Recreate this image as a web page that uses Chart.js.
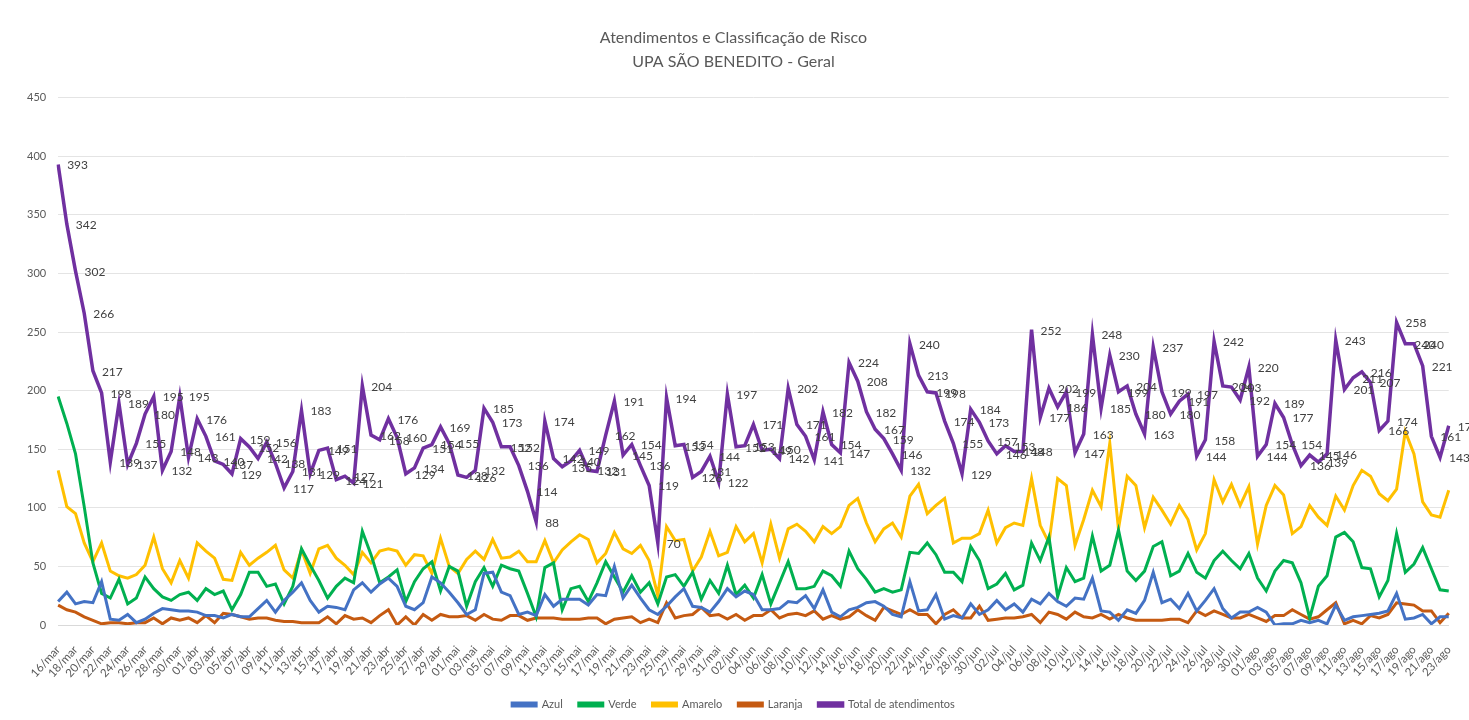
<!DOCTYPE html>
<html lang="pt-BR">
<head>
<meta charset="utf-8">
<title>Atendimentos e Classificação de Risco</title>
<script src="https://cdn.jsdelivr.net/npm/chart.js@4.4.1/dist/chart.umd.min.js"></script>
<style>
  html, body { margin: 0; padding: 0; background: #fff; }
  .chart-box { position: relative; width: 1469px; height: 720px; }
</style>
</head>
<body>
<div class="chart-box"><canvas id="chart"></canvas></div>
<script>
// Daily categories, 16/mar to 23/ago.
const days = [
  "16/mar","17/mar","18/mar","19/mar","20/mar","21/mar","22/mar","23/mar","24/mar","25/mar","26/mar","27/mar","28/mar","29/mar","30/mar","31/mar",
  "01/abr","02/abr","03/abr","04/abr","05/abr","06/abr","07/abr","08/abr","09/abr","10/abr","11/abr","12/abr","13/abr","14/abr","15/abr",
  "16/abr","17/abr","18/abr","19/abr","20/abr","21/abr","22/abr","23/abr","24/abr","25/abr","26/abr","27/abr","28/abr","29/abr","30/abr",
  "01/mai","02/mai","03/mai","04/mai","05/mai","06/mai","07/mai","08/mai","09/mai","10/mai","11/mai","12/mai","13/mai","14/mai","15/mai","16/mai",
  "17/mai","18/mai","19/mai","20/mai","21/mai","22/mai","23/mai","24/mai","25/mai","26/mai","27/mai","28/mai","29/mai","30/mai","31/mai",
  "01/jun","02/jun","03/jun","04/jun","05/jun","06/jun","07/jun","08/jun","09/jun","10/jun","11/jun","12/jun","13/jun","14/jun","15/jun",
  "16/jun","17/jun","18/jun","19/jun","20/jun","21/jun","22/jun","23/jun","24/jun","25/jun","26/jun","27/jun","28/jun","29/jun","30/jun",
  "01/jul","02/jul","03/jul","04/jul","05/jul","06/jul","07/jul","08/jul","09/jul","10/jul","11/jul","12/jul","13/jul","14/jul","15/jul","16/jul",
  "17/jul","18/jul","19/jul","20/jul","21/jul","22/jul","23/jul","24/jul","25/jul","26/jul","27/jul","28/jul","29/jul","30/jul","31/jul",
  "01/ago","02/ago","03/ago","04/ago","05/ago","06/ago","07/ago","08/ago","09/ago","10/ago","11/ago","12/ago","13/ago","14/ago","15/ago","16/ago",
  "17/ago","18/ago","19/ago","20/ago","21/ago","22/ago","23/ago"
];

// Series.
const azul = [
  20, 28, 18, 20, 19, 37, 5, 4, 9, 2, 5, 10, 14, 13, 12, 12, 11, 8, 8, 6, 9, 7, 7, 14, 21, 11,
  21, 28, 36, 21, 11, 16, 15, 13, 30, 36, 28, 35, 40, 33, 16, 13, 19, 41, 36, 28, 19, 9, 13, 44, 45, 28, 25,
  9, 11, 8, 26, 16, 22, 22, 22, 17, 26, 25, 50, 23, 34, 23, 13, 9, 16, 24, 31, 16, 15, 11, 20, 31, 24,
  29, 26, 13, 13, 14, 20, 19, 25, 14, 30, 11, 7, 13, 15, 19, 20, 16, 9, 7, 37, 12, 13, 26, 5, 8, 6, 18,
  9, 13, 21, 13, 18, 11, 22, 18, 27, 20, 16, 23, 22, 40, 12, 11, 4, 13, 10, 21, 45, 19, 22, 14, 27, 12,
  21, 31, 14, 6, 11, 11, 15, 11, 0, 1, 1, 4, 2, 4, 1, 17, 4, 7, 8, 9, 10, 12, 27, 5, 6, 9, 1, 7, 7
];
const verde = [
  195, 172, 146, 101, 53, 27, 23, 39, 18, 23, 41, 31, 24, 21, 26, 28, 21, 31, 26, 29, 13, 26, 45, 45, 33, 35,
  18, 33, 65, 51, 38, 23, 33, 40, 36, 80, 60, 36, 41, 47, 20, 37, 48, 54, 29, 50, 46, 16, 37, 49, 33, 51, 48,
  46, 27, 7, 49, 53, 13, 31, 33, 20, 36, 54, 41, 28, 42, 28, 36, 18, 41, 43, 33, 45, 22, 38, 27, 51, 26,
  34, 23, 43, 18, 36, 54, 31, 31, 33, 46, 42, 33, 63, 48, 39, 28, 31, 28, 30, 62, 61, 70, 60, 45, 45, 37, 67,
  55, 31, 35, 44, 30, 34, 70, 55, 75, 24, 49, 37, 40, 76, 46, 51, 81, 46, 38, 46, 67, 71, 42, 46, 61, 45,
  40, 55, 63, 55, 48, 61, 40, 29, 46, 55, 53, 36, 6, 33, 42, 75, 79, 71, 49, 48, 24, 38, 78, 45, 52, 66, 48, 30, 29
];
const amarelo = [
  132, 101, 95, 70, 54, 70, 46, 42, 40, 43, 51, 75, 48, 36, 55, 40, 70, 63, 57, 39, 38, 62, 51, 57, 62, 68,
  47, 40, 64, 44, 65, 68, 57, 51, 43, 62, 53, 63, 65, 63, 51, 60, 59, 44, 74, 50, 44, 56, 63, 56, 73, 57, 58,
  63, 54, 54, 72, 53, 64, 71, 77, 73, 53, 61, 79, 65, 61, 68, 55, 25, 84, 72, 73, 46, 58, 80, 59, 62, 84,
  71, 78, 53, 86, 57, 82, 86, 80, 71, 84, 78, 84, 102, 108, 87, 71, 82, 87, 75, 110, 120, 95, 102, 108, 70, 74, 74,
  78, 98, 70, 83, 87, 85, 125, 85, 70, 125, 119, 68, 90, 115, 101, 155, 82, 127, 119, 83, 109, 98, 86, 102, 90, 64,
  78, 124, 105, 120, 102, 118, 69, 102, 119, 111, 78, 84, 102, 92, 85, 110, 98, 119, 132, 127, 112, 106, 116, 165, 146, 105, 94, 92, 115
];
const laranja = [
  17, 13, 11, 7, 4, 1, 2, 2, 1, 2, 2, 6, 1, 6, 4, 6, 2, 8, 2, 10, 9, 7, 5, 6, 6, 4,
  3, 3, 2, 2, 2, 7, 1, 8, 5, 6, 2, 8, 13, 0, 7, 0, 9, 4, 9, 7, 7, 8, 4, 9, 5, 4, 8,
  8, 4, 6, 6, 6, 5, 5, 5, 6, 6, 1, 5, 6, 7, 2, 5, 2, 19, 6, 8, 9, 15, 8, 9, 5, 9,
  4, 8, 8, 13, 6, 9, 10, 8, 12, 5, 8, 5, 7, 13, 8, 4, 15, 12, 9, 13, 9, 9, 1, 9, 13, 6, 6,
  16, 4, 5, 6, 6, 7, 9, 2, 11, 9, 5, 11, 7, 6, 9, 5, 9, 6, 4, 4, 4, 4, 5, 5, 2, 12,
  8, 12, 9, 6, 6, 9, 6, 3, 8, 8, 13, 9, 5, 7, 13, 19, 1, 4, 1, 8, 6, 9, 19, 18, 17, 12, 12, 2, 10
];
const total = [
  393, 342, 302, 266, 217, 198, 139, 189, 137, 155, 180, 195, 132, 148, 195, 143, 176, 161, 140, 137,
  129, 159, 152, 142, 156, 138, 117, 131, 183, 129, 149, 151, 124, 127, 121, 204, 162, 158, 176, 160,
  129, 134, 151, 154, 169, 155, 128, 126, 132, 185, 173, 152, 152, 136, 114, 88, 174, 142, 135, 140,
  149, 132, 131, 162, 191, 145, 154, 136, 119, 70, 194, 153, 154, 126, 131, 144, 122, 197, 152, 153,
  171, 149, 150, 142, 202, 171, 161, 141, 182, 154, 147, 224, 208, 182, 167, 159, 146, 132, 240, 213,
  199, 198, 174, 155, 129, 184, 173, 157, 146, 153, 148, 148, 252, 177, 202, 186, 199, 147, 163, 248,
  185, 230, 199, 204, 180, 163, 237, 199, 180, 191, 197, 144, 158, 242, 204, 203, 192, 220, 144, 154,
  189, 177, 154, 136, 145, 139, 146, 243, 201, 211, 216, 207, 166, 174, 258, 240, 240, 221, 161, 143,
  170
];

const FONT = "Lato, 'Liberation Sans', sans-serif";
const TEXT = "#595959";

// Excel-style value labels, drawn just right of each point of the total line.
const totalLabels = {
  id: "totalLabels",
  afterDatasetsDraw(chart) {
    const meta = chart.getDatasetMeta(4);
    if (meta.hidden) return;
    const ctx = chart.ctx;
    ctx.save();
    ctx.font = "12px " + FONT;
    ctx.fillStyle = "#404040";
    ctx.textBaseline = "middle";
    ctx.textAlign = "left";
    meta.data.forEach((pt, i) => ctx.fillText(String(total[i]), pt.x + 9, pt.y + 1));
    ctx.restore();
  },
};

function line(label, data, color, width) {
  return {
    label, data,
    borderColor: color,
    backgroundColor: color,
    borderWidth: width,
    pointRadius: 0,
    pointHoverRadius: 0,
    tension: 0,
    fill: false,
  };
}

new Chart(document.getElementById("chart"), {
  type: "line",
  data: {
    labels: days,
    datasets: [
      line("Azul", azul, "#4472C4", 3),
      line("Verde", verde, "#00B050", 3),
      line("Amarelo", amarelo, "#FFC000", 3),
      line("Laranja", laranja, "#C55A11", 3),
      line("Total de atendimentos", total, "#7030A0", 3.5),
    ],
  },
  options: {
    responsive: true,
    maintainAspectRatio: false,
    animation: false,
    layout: { padding: { left: 15, right: 17, bottom: 0 } },
    plugins: {
      title: {
        display: true,
        text: ["Atendimentos e Classificação de Risco", "UPA SÃO BENEDITO - Geral"],
        color: TEXT,
        font: { family: FONT, size: 16, weight: "normal", lineHeight: 1.55 },
        padding: { top: 25, bottom: 23 },
      },
      legend: {
        position: "bottom",
        labels: {
          color: TEXT,
          font: { family: FONT, size: 11 },
          boxWidth: 24,
          boxHeight: 3,
          padding: 16,
        },
      },
      tooltip: { enabled: false },
    },
    scales: {
      x: {
        grid: { display: false },
        border: { color: "#D9D9D9", width: 1 },
        // Fixed band for the slanted date labels, so the plot ends where the reference does.
        afterFit: (scale) => { scale.height = 58; },
        ticks: {
          color: TEXT,
          font: { family: FONT, size: 11.5 },
          autoSkip: false,
          maxRotation: 48,
          minRotation: 48,
          padding: 10,
          callback: (v, i) => (i % 2 === 0 ? days[i] : ""),
        },
      },
      y: {
        min: 0,
        max: 450,
        grid: { color: "#E4E4E4", drawTicks: false },
        border: { display: false },
        ticks: {
          stepSize: 50,
          color: TEXT,
          font: { family: FONT, size: 11 },
          padding: 12,
        },
      },
    },
  },
  plugins: [totalLabels],
});
</script>
</body>
</html>
